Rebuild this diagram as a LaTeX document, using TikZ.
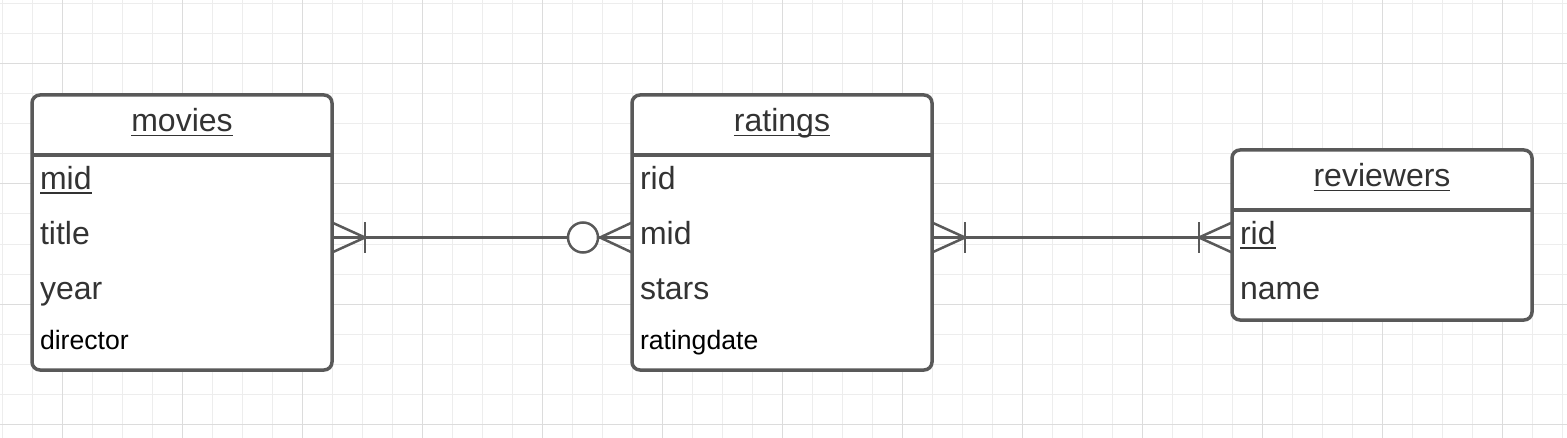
\documentclass[tikz,border=0pt]{standalone}
\usepackage{fontspec}
\setmainfont{Liberation Sans}
\usetikzlibrary{positioning}
\definecolor{erGray}{HTML}{595959}
\definecolor{erText}{HTML}{333333}
\definecolor{gridMinor}{HTML}{EDEDED}
\definecolor{gridMajor}{HTML}{DCDCDC}
\newcommand{\keyText}[1]{\setbox0\hbox{#1}\rlap{\rule[-2.2pt]{\wd0}{0.75pt}}\box0}
\tikzset{
    objEntity/.style={rectangle, rounded corners=4pt, draw=erGray, line width=1.75pt, fill=white, minimum width=150pt, inner sep=0pt, outer sep=0pt},
    objHeader/.style={rectangle, minimum height=30pt, text width=142pt, inner xsep=4pt, inner ysep=0pt, outer sep=0pt, align=center, text height=11pt, text depth=4pt, text=erText, font=\fontsize{16}{19}\selectfont},
    objRow/.style={rectangle, minimum height=27.5pt, text width=142pt, inner xsep=4pt, inner ysep=0pt, outer sep=0pt, align=left, text height=11pt, text depth=4pt, text=erText, font=\fontsize{16}{19}\selectfont},
    objRowSmall/.style={objRow, text height=9pt, text depth=7pt, text=black, font=\fontsize{13.3}{16}\selectfont},
    objLine/.style={draw=erGray, line width=1.75pt},
    relLine/.style={draw=erGray, line width=1.25pt},
    gridMinorLine/.style={draw=gridMinor, line width=0.5pt},
    gridMajorLine/.style={draw=gridMajor, line width=0.5pt}
}
\begin{document}
\begin{tikzpicture}[x=0.5pt, y=-0.5pt]
  \useasboundingbox[fill=white] (0,0) rectangle (1567,438);

  % background grid
  \foreach \gx in {2,32,...,1562} \draw[gridMinorLine] (\gx,0) -- (\gx,438);
  \foreach \gy in {4,34,...,424} \draw[gridMinorLine] (0,\gy) -- (1567,\gy);
  \foreach \gx in {62,182,...,1502} \draw[gridMajorLine] (\gx,0) -- (\gx,438);
  \foreach \gy in {64,184,...,424} \draw[gridMajorLine] (0,\gy) -- (1567,\gy);

  % movies
  \node (mov) [objEntity, minimum height=137.5pt] at (182,232.5) {};
  \node (movHead) [objHeader, below=0pt of mov.north] {\keyText{movies}};
  \draw[objLine] (movHead.south west) -- (movHead.south east);
  \node (movMid) [objRow, below=0pt of movHead] {\keyText{mid}};
  \node (movTitle) [objRow, below=0pt of movMid] {title};
  \node (movYear) [objRow, below=0pt of movTitle] {year};
  \node (movDirector) [objRowSmall, below=0pt of movYear] {director};

  % ratings
  \node (rat) [objEntity, minimum height=137.5pt] at (782,232.5) {};
  \node (ratHead) [objHeader, below=0pt of rat.north] {\keyText{ratings}};
  \draw[objLine] (ratHead.south west) -- (ratHead.south east);
  \node (ratRid) [objRow, below=0pt of ratHead] {rid};
  \node (ratMid) [objRow, below=0pt of ratRid] {mid};
  \node (ratStars) [objRow, below=0pt of ratMid] {stars};
  \node (ratDate) [objRowSmall, below=0pt of ratStars] {ratingdate};

  % reviewers
  \node (rev) [objEntity, minimum height=85pt] at (1382,235) {};
  \node (revHead) [objHeader, below=0pt of rev.north] {\keyText{reviewers}};
  \draw[objLine] (revHead.south west) -- (revHead.south east);
  \node (revRid) [objRow, below=0pt of revHead] {\keyText{rid}};
  \node (revName) [objRow, below=0pt of revRid] {name};

  % movies -- ratings
  \draw[relLine] (movTitle.east) -- (ratMid.west);
  \draw[relLine] ([yshift=7.5pt]movTitle.east) -- ([xshift=16.5pt]movTitle.east) -- ([yshift=-7.5pt]movTitle.east);
  \draw[relLine] ([xshift=16.5pt,yshift=7.5pt]movTitle.east) -- ([xshift=16.5pt,yshift=-7.5pt]movTitle.east);
  \draw[relLine] ([yshift=7.5pt]ratMid.west) -- ([xshift=-16pt]ratMid.west) -- ([yshift=-7.5pt]ratMid.west);
  \node (ratOpt) [circle, relLine, fill=white, minimum size=15pt, inner sep=0pt] at ([xshift=-24.5pt]ratMid.west) {};

  % ratings -- reviewers
  \draw[relLine] (ratMid.east) -- (revRid.west);
  \draw[relLine] ([yshift=7.5pt]ratMid.east) -- ([xshift=16.5pt]ratMid.east) -- ([yshift=-7.5pt]ratMid.east);
  \draw[relLine] ([xshift=16.5pt,yshift=7.5pt]ratMid.east) -- ([xshift=16.5pt,yshift=-7.5pt]ratMid.east);
  \draw[relLine] ([yshift=7.5pt]revRid.west) -- ([xshift=-16.5pt]revRid.west) -- ([yshift=-7.5pt]revRid.west);
  \draw[relLine] ([xshift=-16.5pt,yshift=7.5pt]revRid.west) -- ([xshift=-16.5pt,yshift=-7.5pt]revRid.west);
\end{tikzpicture}
\end{document}
